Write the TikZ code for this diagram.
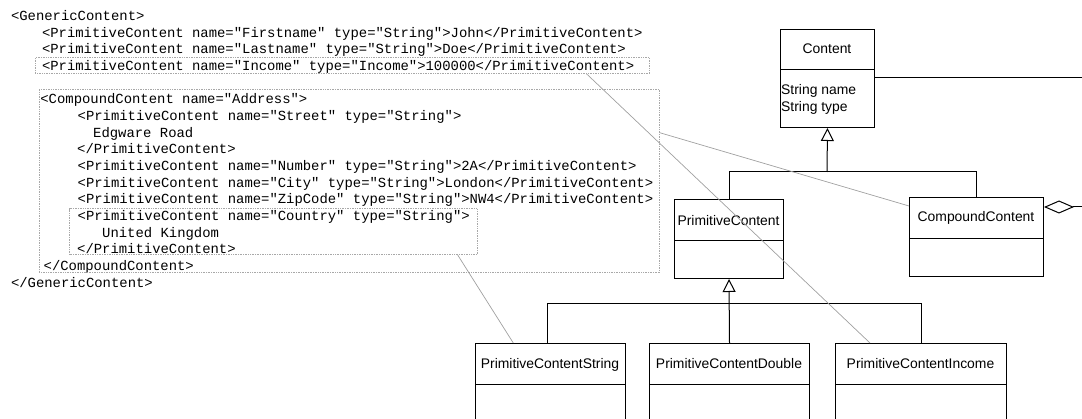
\documentclass[tikz,border=0pt]{standalone}
\usepackage{fontspec}
\setmainfont{Liberation Sans}
\newfontfamily\xmlmono{Liberation Mono}
\usetikzlibrary{arrows.meta,calc}
\definecolor{callcol}{HTML}{A8A8A8}
\definecolor{linkcol}{HTML}{A0A0A0}
\tikzset{
  xmlline/.style={anchor=base west,inner sep=0pt,font=\xmlmono\fontsize{13.9}{16}\selectfont},
  callout/.style={draw=callcol,densely dotted,line width=0.7pt,inner sep=0pt,anchor=north west},
  linkline/.style={draw=linkcol,line width=0.7pt},
  umlbox/.style={draw=black,line width=1pt,inner sep=0pt,anchor=north west},
  umltext/.style={anchor=base,inner sep=0pt,font=\fontsize{13.9}{16}\selectfont},
  attrtext/.style={anchor=base west,inner sep=0pt,font=\fontsize{13.9}{16}\selectfont},
  umlline/.style={draw=black,line width=1pt},
  inh/.style={umlline,-{Triangle[open,width=13pt,length=13pt]}},
  agg/.style={umlline,{Diamond[open,width=13pt,length=30pt]}-},
}
\begin{document}
\begin{tikzpicture}[x=1pt,y=-1pt]
\useasboundingbox (0,0) rectangle (1082,419);
\clip (0,0) rectangle (1082,419);
% XML text
\node[xmlline] (x0) at (10.8,20.5) {<GenericContent>};
\node[xmlline] (x1) at (41.8,37.2) {<PrimitiveContent name="Firstname" type="String">John</PrimitiveContent>};
\node[xmlline] (x2) at (41.8,53.8) {<PrimitiveContent name="Lastname" type="String">Doe</PrimitiveContent>};
\node[xmlline] (x3) at (41.8,70.5) {<PrimitiveContent name="Income" type="Income">100000</PrimitiveContent>};
\node[xmlline] (x5) at (40.2,103.8) {<CompoundContent name="Address">};
\node[xmlline] (x6) at (77.5,120.5) {<PrimitiveContent name="Street" type="String">};
\node[xmlline] (x7) at (93,137.2) {Edgware Road};
\node[xmlline] (x8) at (77,153.8) {</PrimitiveContent>};
\node[xmlline] (x9) at (77.5,170.5) {<PrimitiveContent name="Number" type="String">2A</PrimitiveContent>};
\node[xmlline] (x10) at (77.5,187.2) {<PrimitiveContent name="City" type="String">London</PrimitiveContent>};
\node[xmlline] (x11) at (77.5,203.8) {<PrimitiveContent name="ZipCode" type="String">NW4</PrimitiveContent>};
\node[xmlline] (x12) at (77.5,220.5) {<PrimitiveContent name="Country" type="String">};
\node[xmlline] (x13) at (102,237.2) {United Kingdom};
\node[xmlline] (x14) at (77,253.8) {</PrimitiveContent>};
\node[xmlline] (x15) at (43.5,270.5) {</CompoundContent>};
\node[xmlline] (x16) at (10.8,287.2) {</GenericContent>};
% callout boxes
\node[callout,minimum width=614pt,minimum height=16pt] (cIncome) at (35,57.3) {};
\node[callout,minimum width=620pt,minimum height=183.5pt] (cComp) at (39,89) {};
\node[callout,minimum width=407.4pt,minimum height=46pt] (cCountry) at (69.3,208.3) {};
% UML classes
\node[umlbox,minimum width=94pt,minimum height=98pt] (content) at (780,29) {};
\draw[umlline] (780,70) -- (874,70);
\node[umltext] (contentT) at (827,54) {Content};
\node[attrtext] (a1) at (781,95) {String name};
\node[attrtext] (a2) at (781,112) {String type};

\node[umlbox,minimum width=109pt,minimum height=79pt] (pc) at (674,199) {};
\draw[umlline] (674,241) -- (783,241);
\node[umltext] (pcT) at (728.5,226) {PrimitiveContent};

\node[umlbox,minimum width=134pt,minimum height=79pt] (cc) at (909,197) {};
\draw[umlline] (909,239) -- (1043,239);
\node[umltext] (ccT) at (976,222) {CompoundContent};

\node[umlbox,minimum width=150pt,minimum height=90pt] (pcs) at (475,343) {};
\draw[umlline] (475,385) -- (625,385);
\node[umltext] (pcsT) at (550,369) {PrimitiveContentString};

\node[umlbox,minimum width=160pt,minimum height=90pt] (pcd) at (649,343) {};
\draw[umlline] (649,385) -- (809,385);
\node[umltext] (pcdT) at (729,369) {PrimitiveContentDouble};

\node[umlbox,minimum width=171pt,minimum height=90pt] (pci) at (835,343) {};
\draw[umlline] (835,385) -- (1006,385);
\node[umltext] (pciT) at (920.5,369) {PrimitiveContentIncome};

% generalisation 1
\coordinate (j1) at (827,172);
\draw[umlline] (pc.north) |- (cc.north |- j1) -- (cc.north);
\draw[inh] (j1) -- (content.south);
% generalisation 2
\coordinate (j2) at (729,304);
\draw[umlline] ($(pcs.north)+(-3,0)$) |- (pci.north |- j2) -- (pci.north);
\draw[inh] (pcd.north) -- (pc.south);
% aggregation (leaves picture to the right)
\coordinate (aggE) at (1100,207);
\draw[agg] ($(cc.north east)+(0,10)$) -- (aggE) |- ($(content.north east)+(0,49)$);
% links from XML to classes
\draw[linkline] ($(cIncome.south west)+(551.7,0)$) -- ($(pci.north west)+(35,0)$);
\draw[linkline] ($(cComp.north east)+(0,43.7)$) -- ($(cc.north west)+(0,9)$);
\draw[linkline] ($(cCountry.south west)+(388.4,0)$) -- ($(pcs.north west)+(38.3,0)$);
\end{tikzpicture}
\end{document}
